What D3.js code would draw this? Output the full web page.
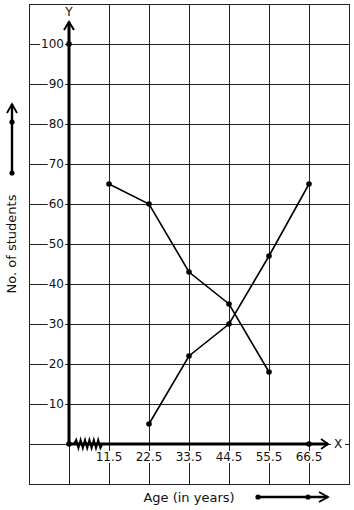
<!DOCTYPE html>
<html><head><meta charset="utf-8">
<script src="https://cdn.jsdelivr.net/npm/d3@7/dist/d3.min.js"></script>
<style>html,body{margin:0;padding:0;background:#fff;}svg{display:block;}</style>
</head><body>
<svg id="c" width="354" height="510"></svg>
<script>
const ages = [11.5, 22.5, 33.5, 44.5, 55.5, 66.5];
const seriesDown = [[11.5,65],[22.5,60],[33.5,43],[44.5,35],[55.5,18]];
const seriesUp = [[22.5,5],[33.5,22],[44.5,30],[55.5,47],[66.5,65]];
const yTicks = [10,20,30,40,50,60,70,80,90,100];
const xTickLabels = ["11.5","22.5","33.5","44.5","55.5","66.5"];

const svg = d3.select("#c");
const font = "DejaVu Sans, sans-serif";
const xs = d3.scaleLinear().domain([0.5, 66.5]).range([69, 309]);
const ys = d3.scaleLinear().domain([0, 100]).range([444, 44]);
const step = 11, ystep = 10;

// grid
const gx = d3.range(-1, 8).map(i => 0.5 + i*step);
const gy = d3.range(-1, 12).map(i => i*ystep);
const xL = xs(gx[0]), xR = xs(gx[gx.length-1]);
const yB = ys(gy[0]), yT = ys(gy[gy.length-1]);
const grid = svg.append("g").attr("stroke","#222").attr("stroke-width",1).attr("shape-rendering","crispEdges");
grid.selectAll("line.v").data(gx).join("line").attr("x1",d=>xs(d)+0.5).attr("x2",d=>xs(d)+0.5).attr("y1",yT).attr("y2",yB+0.5);
grid.selectAll("line.h").data(gy).join("line").attr("y1",d=>ys(d)+0.5).attr("y2",d=>ys(d)+0.5).attr("x1",xL).attr("x2",xR+1);

function labelBox(g, pad){
  g.each(function(){
    const t = d3.select(this).select("text").node();
    const b = t.getBBox();
    d3.select(this).insert("rect","text").attr("x",b.x-pad).attr("y",b.y+1).attr("width",b.width+2*pad).attr("height",b.height-2).attr("fill","#fff");
  });
}

// y tick labels
const yl = svg.append("g").selectAll("g").data(yTicks).join("g");
yl.append("text").attr("x",xs(0.5)-5).attr("y",d=>ys(d)).attr("text-anchor","end").attr("dominant-baseline","central")
  .attr("font-family",font).attr("font-size",12).attr("fill","#111").text(d=>d);
labelBox(yl,1);

// x tick labels
const xl = svg.append("g").selectAll("g").data(ages).join("g");
xl.append("text").attr("x",d=>xs(d)).attr("y",ys(0)+17).attr("text-anchor","middle")
  .attr("font-family",font).attr("font-size",12).attr("fill","#111").text((d,i)=>xTickLabels[i]);
labelBox(xl,1);

// axes
const x0 = xs(0.5), y0 = ys(0);
const xTip = xs(66.5)+19, yTip = ys(100)-22;

// axis letters
const xg = svg.append("g");
xg.append("text").attr("x",xTip+10).attr("y",y0).attr("dominant-baseline","central").attr("text-anchor","middle")
  .attr("font-family",font).attr("font-size",12).attr("fill","#111").text("X");
labelBox(xg,3);
const yg = svg.append("g");
yg.append("text").attr("x",x0).attr("y",12).attr("dominant-baseline","central").attr("text-anchor","middle")
  .attr("font-family",font).attr("font-size",12).attr("fill","#111").text("Y");
yg.insert("rect","text").attr("x",x0-6).attr("y",5).attr("width",12).attr("height",yTip-5).attr("fill","#fff");

const ax = svg.append("g").attr("stroke","#000").attr("fill","none");
ax.append("line").attr("x1",x0).attr("x2",xTip).attr("y1",y0).attr("y2",y0).attr("stroke-width",3);
ax.append("path").attr("d",`M${xTip-7},${y0-5}L${xTip},${y0}L${xTip-7},${y0+5}`).attr("stroke-width",1.8);
ax.append("line").attr("x1",x0).attr("x2",x0).attr("y1",y0).attr("y2",yTip).attr("stroke-width",3);
ax.append("path").attr("d",`M${x0-5},${yTip+8}L${x0},${yTip}L${x0+5},${yTip+8}`).attr("stroke-width",2);
// kink
const kx0 = x0+5, kn = 12, kw = 2.2;
let kd = `M${kx0},${y0}`;
for(let i=1;i<=kn;i++){ kd += `L${kx0+i*kw},${y0+(i%2?-4:4)}`; }
kd += `L${kx0+kn*kw+2},${y0}`;
ax.append("path").attr("d",kd).attr("stroke-width",2);
svg.append("circle").attr("cx",x0).attr("cy",y0).attr("r",2.8).attr("fill","#000");
svg.append("circle").attr("cx",x0).attr("cy",ys(100)).attr("r",2.8).attr("fill","#000");
svg.append("circle").attr("cx",xs(66.5)).attr("cy",y0).attr("r",2.8).attr("fill","#000");

// series
const line = d3.line().x(d=>xs(d[0])).y(d=>ys(d[1]));
[seriesDown, seriesUp].forEach(s=>{
  svg.append("path").datum(s).attr("d",line).attr("fill","none").attr("stroke","#000").attr("stroke-width",1.6);
  svg.append("g").selectAll("circle").data(s).join("circle").attr("cx",d=>xs(d[0])).attr("cy",d=>ys(d[1])).attr("r",2.8).attr("fill","#000");
});

// axis titles
svg.append("text").attr("transform","translate(16,244) rotate(-90)").attr("text-anchor","middle")
  .attr("font-family",font).attr("font-size",13).attr("fill","#111").text("No. of students");
svg.append("text").attr("x",189).attr("y",502).attr("text-anchor","middle")
  .attr("font-family",font).attr("font-size",13).attr("fill","#111").text("Age (in years)");

// decorative arrows
const la = svg.append("g").attr("stroke","#000").attr("fill","none");
la.append("line").attr("x1",12).attr("x2",12).attr("y1",173).attr("y2",104).attr("stroke-width",2.4);
la.append("path").attr("d","M7,113L12,104L17,113").attr("stroke-width",1.8);
svg.append("circle").attr("cx",12).attr("cy",122).attr("r",2.6).attr("fill","#000");
svg.append("circle").attr("cx",12).attr("cy",173).attr("r",2.6).attr("fill","#000");
la.append("line").attr("x1",258).attr("x2",328).attr("y1",497).attr("y2",497).attr("stroke-width",2.4);
la.append("path").attr("d","M319,492L328,497L319,502").attr("stroke-width",1.8);
svg.append("circle").attr("cx",258).attr("cy",497).attr("r",2.6).attr("fill","#000");
svg.append("circle").attr("cx",308).attr("cy",497).attr("r",2.6).attr("fill","#000");
</script>
</body></html>
